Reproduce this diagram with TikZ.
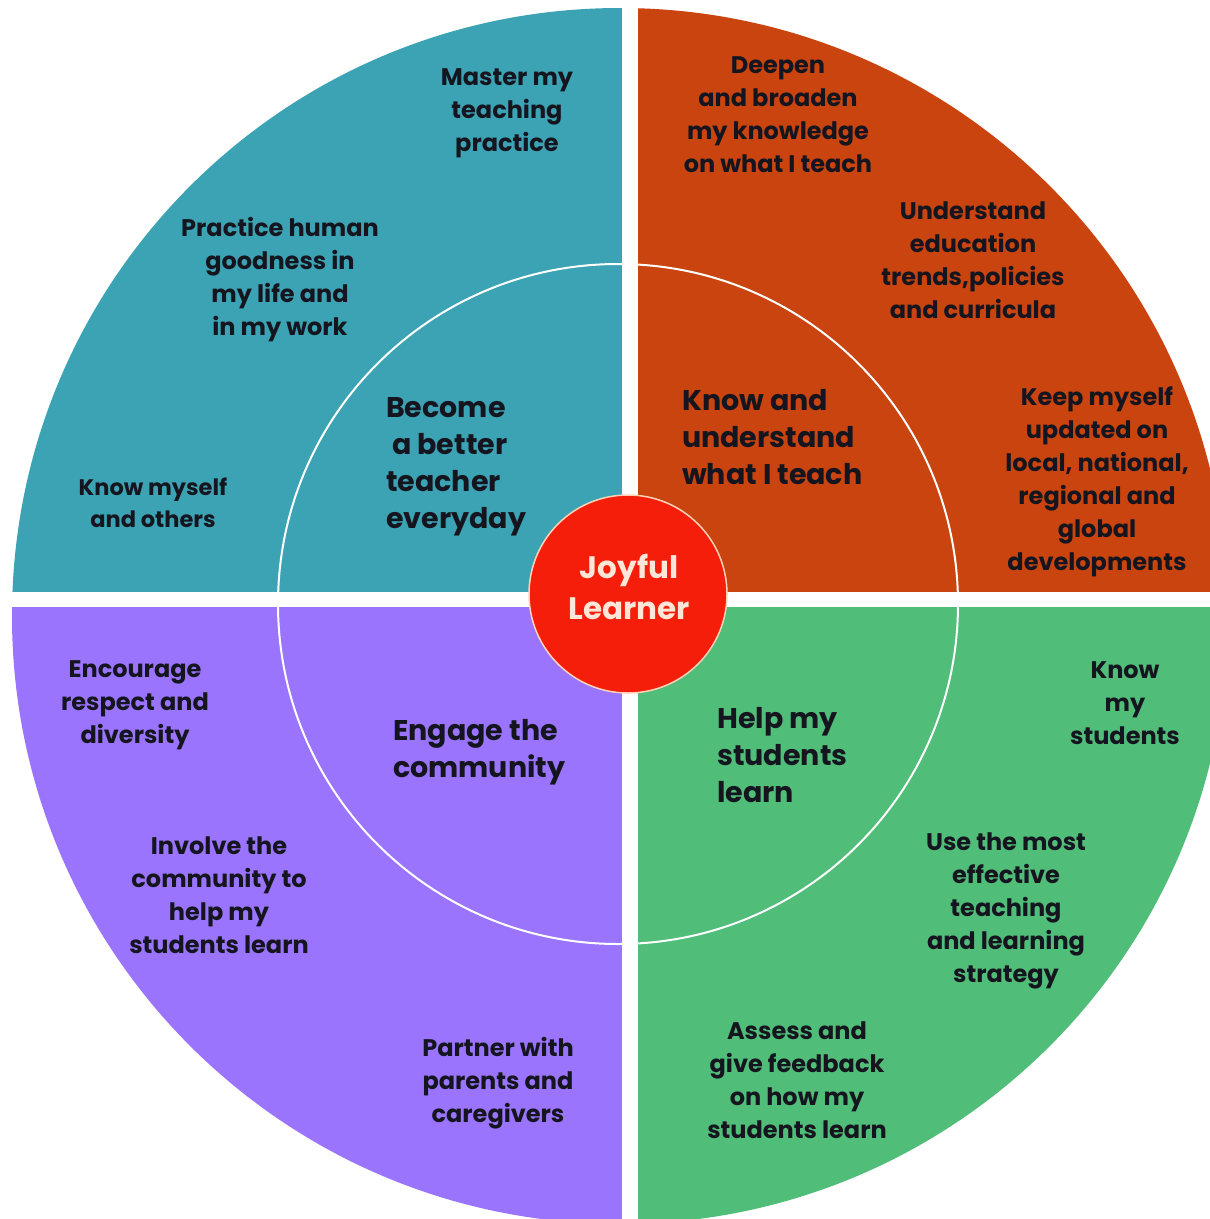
\documentclass[tikz,border=0pt]{standalone}
\usepackage{fontspec}
\setmainfont{Poppins}
\definecolor{qteal}{HTML}{3BA3B3}
\definecolor{qorange}{HTML}{C9440F}
\definecolor{qpurple}{HTML}{9A74FD}
\definecolor{qgreen}{HTML}{50BD79}
\definecolor{qred}{HTML}{F41E0A}
\definecolor{qrim}{HTML}{FFD2B8}
\definecolor{txt}{HTML}{15151F}
\definecolor{ctxt}{HTML}{FFE6D8}
\tikzset{
  lbl/.style={font=\fontsize{24}{33}\selectfont\bfseries, text=txt, align=center, inner sep=0pt},
  smalllbl/.style={font=\fontsize{22.5}{32}\selectfont\bfseries, text=txt, align=center, inner sep=0pt},
  biglbl/.style={font=\fontsize{28.5}{37}\selectfont\bfseries, text=txt, align=left, inner sep=0pt, anchor=west},
}
\begin{document}
\begin{tikzpicture}[x=1pt,y=-1pt]
\useasboundingbox (0,0) rectangle (1210,1219);
\begin{scope}
  \clip (0,0) rectangle (1210,1219);
  \clip (620,616) circle[radius=608pt];
  \fill[qteal] (0,0) rectangle (622,592);
  \fill[qorange] (638,0) rectangle (1240,592);
  \fill[qpurple] (0,607) rectangle (622,1240);
  \fill[qgreen] (638,607) rectangle (1240,1240);
\end{scope}
\draw[white, line width=2pt] (618,604) circle[radius=340pt];
\node[circle, fill=qred, draw=qrim, line width=1.5pt, minimum size=198pt, inner sep=0pt] (center) at (628,594) {};
\node[font=\fontsize{31}{41}\selectfont\bfseries, text=ctxt, align=center, inner sep=0pt] (centertext) at (629,587) {Joyful\\Learner};
% teal
\node[lbl] (t1) at (507,113) {Master my\\teaching\\practice};
\node[lbl] (t2) at (280,280) {Practice human\\goodness in\\my life and\\in my work};
\node[smalllbl] (t3) at (153,503) {Know myself\\and others};
\node[biglbl] (t4) at (386,467) {Become\\\ a better\\teacher\\everyday};
% orange
\node[lbl] (o1) at (778,115) {Deepen\\and broaden\\my knowledge\\on what I teach};
\node[lbl] (o2) at (973,260) {Understand\\education\\trends,policies\\and curricula};
\node[lbl] (o3) at (1097,482) {Keep myself\\updated on\\local, national,\\regional and\\global\\developments};
\node[biglbl] (o4) at (682,437) {Know and\\understand\\what I teach};
% purple
\node[lbl] (p1) at (135,705) {Encourage\\respect and\\diversity};
\node[lbl] (p2) at (219,895) {Involve the\\community to\\help my\\students learn};
\node[lbl] (p3) at (498,1083) {Partner with\\parents and\\caregivers};
\node[biglbl] (p4) at (393,752) {Engage the\\community};
% green
\node[lbl] (g1) at (1125,703) {Know\\my\\students};
\node[lbl] (g2) at (1006,911) {Use the most\\effective\\teaching\\and learning\\strategy};
\node[lbl] (g3) at (797,1080) {Assess and\\give feedback\\on how my\\students learn};
\node[biglbl] (g4) at (717,755) {Help my\\students\\learn};
\end{tikzpicture}
\end{document}
